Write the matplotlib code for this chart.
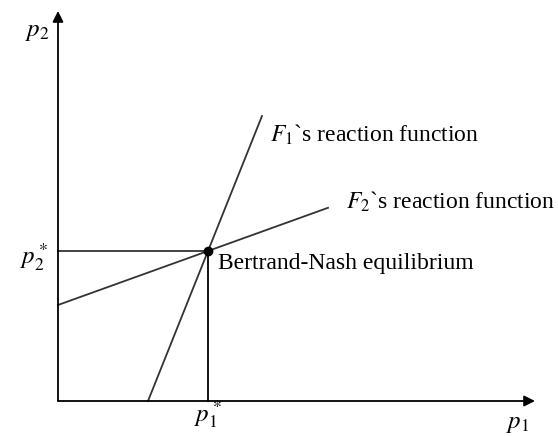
import numpy as np
import matplotlib.pyplot as plt

plt.rcParams['font.family'] = 'Liberation Serif'
plt.rcParams['mathtext.fontset'] = 'stix'

# equilibrium prices
p_star = [5.0, 5.0]
# F1 reaction function endpoints (p1, p2)
f1_p1 = [3.0, 6.8]
f1_p2 = [0.0, 9.5]
# F2 reaction function endpoints (p1, p2)
f2_p1 = [0.0, 9.0]
f2_p2 = [3.2, 6.44]
# axis extents
x_max = 15.9
y_max = 13.0

fig = plt.figure(figsize=(5.58, 4.36), dpi=100)
ax = fig.add_axes([0, 0, 1, 1])
ax.set_xlim(-58 / 30, 500 / 30)
ax.set_ylim(-35 / 30, 401 / 30)
ax.axis('off')

# axes with arrows
arr = dict(arrowstyle='-|>', color='black', lw=1.3, mutation_scale=16, shrinkA=0, shrinkB=0)
ax.annotate('', xy=(x_max, 0), xytext=(0, 0), arrowprops=arr)
ax.annotate('', xy=(0, y_max), xytext=(0, 0), arrowprops=arr)

# reaction functions
ax.plot(f1_p1, f1_p2, color='#333333', lw=1.3)
ax.plot(f2_p1, f2_p2, color='#333333', lw=1.3)

# guide lines to equilibrium
ax.plot([0, p_star[0]], [p_star[1], p_star[1]], color='#333333', lw=1.3)
ax.plot([p_star[0], p_star[0]], [0, p_star[1]], color='black', lw=1.3)
ax.plot(p_star[0], p_star[1], 'o', color='black', markersize=6, zorder=5)

# labels
ax.text(-0.7, 12.3, '$p_2$', fontsize=18, ha='center', va='center')
ax.text(-0.8, 4.8, '$p_2^*$', fontsize=18, ha='center', va='center')
ax.text(p_star[0], -0.45, '$p_1^*$', fontsize=18, ha='center', va='center')
ax.text(15.33, -0.75, '$p_1$', fontsize=18, ha='center', va='center')

ax.text(7.07, 8.87, '$F_1$`s reaction function', fontsize=17, ha='left', va='center')
ax.text(9.6, 6.63, '$F_2$`s reaction function', fontsize=17, ha='left', va='center')
ax.text(5.33, 4.6, 'Bertrand-Nash equilibrium', fontsize=17, ha='left', va='center')

fig.savefig('out.png', dpi=100)
